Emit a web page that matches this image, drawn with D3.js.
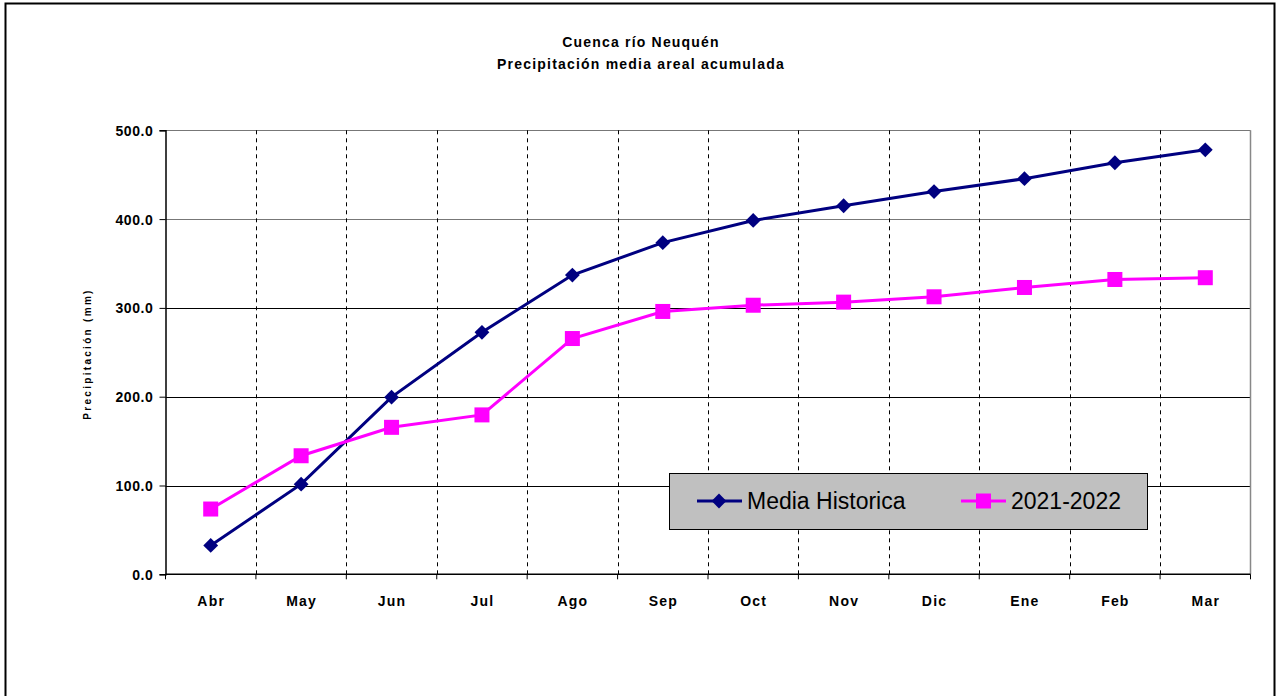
<!DOCTYPE html>
<html><head><meta charset="utf-8">
<script src="https://cdn.jsdelivr.net/npm/d3@7"></script>
<style>body{margin:0;background:#fff}svg{display:block}</style>
</head><body>
<svg id="c" width="1277" height="696"></svg>
<script>
const months = ["Abr","May","Jun","Jul","Ago","Sep","Oct","Nov","Dic","Ene","Feb","Mar"];
const mediaHistorica = [32.5, 101.5, 199.5, 272.5, 337, 373.5, 398.5, 415, 431, 445.5, 463.5, 478];
const temporada = [73.5, 133.5, 165.5, 179.5, 265.5, 296, 303, 306.5, 312.5, 323, 332, 334];
const yTicks = [0, 100, 200, 300, 400, 500];
const titleLines = ["Cuenca río Neuquén", "Precipitación media areal acumulada"];
const yTitle = "Precipitación (mm)";
const seriesNames = ["Media Historica", "2021-2022"];

const svg = d3.select("#c");
const L = 165.5, R = 1250.5, T = 130.3, B = 574.3;
const x = d3.scaleBand().domain(months).range([L, R]);
const y = d3.scaleLinear().domain([0, 500]).range([B, T]);
const font = "Arial, 'Liberation Sans', sans-serif";

// outer frame
svg.append("rect").attr("x", 5.5).attr("y", 3.5).attr("width", 1269).attr("height", 720)
  .attr("fill", "none").attr("stroke", "#000").attr("stroke-width", 2);

// title
svg.append("g").selectAll("text").data(titleLines).join("text")
  .attr("x", 641).attr("y", (d, i) => 47 + i * 22)
  .attr("text-anchor", "middle").attr("font-family", font).attr("font-weight", "bold")
  .attr("font-size", 14).attr("letter-spacing", 1.2).attr("fill", "#000").text(d => d);

// horizontal grid
svg.append("g").selectAll("line").data(yTicks.filter(v => v > 0)).join("line")
  .attr("x1", L).attr("x2", R).attr("y1", d => Math.round(y(d)) + 0.5).attr("y2", d => Math.round(y(d)) + 0.5)
  .attr("stroke", d => d >= 400 ? "#777" : "#000").attr("stroke-width", 1.2);

// vertical dashed grid
const bounds = months.slice(1).map(m => x(m));
svg.append("g").selectAll("line").data(bounds).join("line")
  .attr("x1", d => Math.round(d) + 0.5).attr("x2", d => Math.round(d) + 0.5)
  .attr("y1", T).attr("y2", B)
  .attr("stroke", "#000").attr("stroke-width", 1).attr("stroke-dasharray", "4,4");

// right border
svg.append("line").attr("x1", R).attr("x2", R).attr("y1", T).attr("y2", B)
  .attr("stroke", "#888").attr("stroke-width", 1.5);

// y axis
const yAxis = d3.axisLeft(y).tickValues(yTicks).tickFormat(d3.format(".1f")).tickSize(6).tickPadding(6);
const gy = svg.append("g").attr("transform", `translate(${L},0)`).call(yAxis);
gy.select(".domain").attr("stroke", "#000").attr("stroke-width", 1.5);
gy.selectAll(".tick line").attr("stroke", "#000");
gy.selectAll("text").attr("font-family", font).attr("font-weight", "bold").attr("font-size", 14)
  .attr("letter-spacing", 0.6).attr("fill", "#000").attr("dy", "0.35em");

// x axis (ticks at band boundaries)
svg.append("line").attr("x1", L).attr("x2", R).attr("y1", B).attr("y2", B)
  .attr("stroke", "#000").attr("stroke-width", 1.5);
const tickXs = months.map(m => x(m)).concat([R]);
svg.append("g").selectAll("line").data(tickXs).join("line")
  .attr("x1", d => d).attr("x2", d => d).attr("y1", B).attr("y2", B + 5)
  .attr("stroke", "#000");
svg.append("g").selectAll("text").data(months).join("text")
  .attr("x", d => x(d) + x.bandwidth() / 2 + 0.5).attr("y", 606)
  .attr("text-anchor", "middle").attr("font-family", font).attr("font-weight", "bold")
  .attr("font-size", 14).attr("letter-spacing", 1.2).attr("fill", "#000").text(d => d);

// y title
svg.append("text").attr("transform", "translate(91,354) rotate(-90)")
  .attr("text-anchor", "middle").attr("font-family", font).attr("font-weight", "bold")
  .attr("font-size", 10).attr("letter-spacing", 2.3).attr("fill", "#000").text(yTitle);

// series
const line = d3.line().x((d, i) => x(months[i]) + x.bandwidth() / 2).y(d => y(d));
const navy = "#000080", mag = "#ff00ff";
svg.append("path").datum(mediaHistorica).attr("d", line).attr("fill", "none").attr("stroke", navy).attr("stroke-width", 3);
svg.append("path").datum(temporada).attr("d", line).attr("fill", "none").attr("stroke", mag).attr("stroke-width", 3);

const diamond = d3.symbol().type(d3.symbolSquare).size(110)();
svg.append("g").selectAll("path").data(mediaHistorica).join("path")
  .attr("d", diamond)
  .attr("transform", (d, i) => `translate(${x(months[i]) + x.bandwidth() / 2},${y(d)}) rotate(45)`)
  .attr("fill", navy);
svg.append("g").selectAll("rect").data(temporada).join("rect")
  .attr("x", (d, i) => x(months[i]) + x.bandwidth() / 2 - 7.5).attr("y", d => y(d) - 7.5)
  .attr("width", 15).attr("height", 15).attr("fill", mag);

// legend
const lg = svg.append("g");
lg.append("rect").attr("x", 669.5).attr("y", 473.5).attr("width", 478).attr("height", 56)
  .attr("fill", "#c0c0c0").attr("stroke", "#000").attr("stroke-width", 1);
const legendItems = [
  {name: seriesNames[0], color: navy, x0: 697, type: "d"},
  {name: seriesNames[1], color: mag, x0: 961, type: "s"}
];
legendItems.forEach(it => {
  lg.append("line").attr("x1", it.x0).attr("x2", it.x0 + 45).attr("y1", 501).attr("y2", 501)
    .attr("stroke", it.color).attr("stroke-width", 3);
  if (it.type === "d") {
    lg.append("path").attr("d", diamond).attr("transform", `translate(${it.x0 + 22},501) rotate(45)`).attr("fill", it.color);
  } else {
    lg.append("rect").attr("x", it.x0 + 15).attr("y", 493.5).attr("width", 15).attr("height", 15).attr("fill", it.color);
  }
  lg.append("text").attr("x", it.x0 + 50).attr("y", 509).attr("font-family", font)
    .attr("font-size", 23).attr("fill", "#000").text(it.name);
});
</script>
</body></html>
